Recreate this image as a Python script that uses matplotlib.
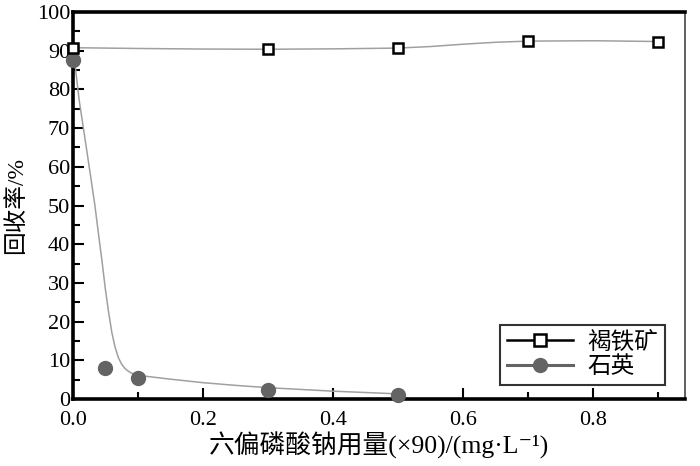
import matplotlib
matplotlib.use('Agg')
from matplotlib import pyplot as plt
from matplotlib.lines import Line2D
from matplotlib.ticker import MultipleLocator, FormatStrFormatter

plt.rcParams['font.family'] = ['Liberation Serif', 'Noto Sans CJK SC', 'DejaVu Sans']

# measured points
limonite_x = [0.0, 0.3, 0.5, 0.7, 0.9]
limonite_y = [90.8, 90.4, 90.7, 92.5, 92.3]
quartz_x = [0.0, 0.05, 0.1, 0.3, 0.5]
quartz_y = [87.5, 8.0, 5.3, 2.4, 1.1]

# smooth guide lines
limonite_fit_x = [0.0, 0.1, 0.2, 0.3, 0.4, 0.5, 0.55, 0.6, 0.65, 0.7, 0.8, 0.9]
limonite_fit_y = [90.8, 90.6, 90.45, 90.4, 90.5, 90.7, 91.1, 91.7, 92.2, 92.5, 92.6, 92.4]
quartz_fit_x = [0.0, 0.004, 0.01, 0.019, 0.027, 0.034, 0.04, 0.045, 0.05, 0.055,
                0.06, 0.065, 0.07, 0.075, 0.08, 0.085, 0.09, 0.095, 0.1, 0.125,
                0.15, 0.2, 0.25, 0.3, 0.4, 0.5]
quartz_fit_y = [87.5, 85.5, 77, 67, 58, 50, 42, 35.5, 28.5, 22.5,
                17.2, 13.4, 10.7, 9.0, 7.9, 7.2, 6.7, 6.35, 6.1, 5.6,
                5.1, 4.2, 3.5, 2.9, 2.0, 1.3]

fig = plt.figure(figsize=(7, 4.66), dpi=100)
ax = fig.add_axes([0.104, 0.144, 0.875, 0.830])

ax.plot(limonite_fit_x, limonite_fit_y, color='#a0a0a0', lw=1.1, zorder=2)
ax.plot(quartz_fit_x, quartz_fit_y, color='#a0a0a0', lw=1.1, zorder=2)
ax.plot(limonite_x, limonite_y, ls='none', marker='s', ms=7.5, mfc='white',
        mec='black', mew=1.8, zorder=4, clip_on=False)
ax.plot(quartz_x, quartz_y, ls='none', marker='o', ms=10, mfc='#646464',
        mec='#646464', zorder=3, clip_on=False)

ax.set_xlim(0, 0.942)
ax.set_ylim(0, 100)
ax.xaxis.set_major_locator(MultipleLocator(0.2))
ax.xaxis.set_minor_locator(MultipleLocator(0.1))
ax.yaxis.set_major_locator(MultipleLocator(10))
ax.yaxis.set_minor_locator(MultipleLocator(5))
ax.xaxis.set_major_formatter(FormatStrFormatter('%.1f'))
ax.tick_params(which='both', direction='in', top=False, right=False,
               labelsize=16, width=1.5)
ax.tick_params(axis='y', pad=2)
ax.tick_params(axis='x', pad=9)
ax.tick_params(which='major', length=8)
ax.tick_params(which='minor', length=5)

for side in ['left', 'bottom', 'top']:
    ax.spines[side].set_linewidth(2.6)
ax.spines['right'].set_linewidth(1.2)
ax.spines['right'].set_color('#444444')

ax.set_xlabel('六偏磷酸钠用量(×90)/(mg·L⁻¹)', fontsize=18.5, labelpad=1)
ax.set_ylabel('回收率/%', fontsize=17, labelpad=7)

handles = [
    Line2D([], [], color='black', lw=1.8, marker='s', ms=9, mfc='white',
           mec='black', mew=1.8),
    Line2D([], [], color='#646464', lw=2.2, marker='o', ms=10,
           mfc='#646464', mec='#646464'),
]
leg = ax.legend(handles, ['褐铁矿', '石英'], loc='lower right',
                bbox_to_anchor=(0.967, 0.036), borderaxespad=0, fontsize=17,
                frameon=True, fancybox=False, edgecolor='black',
                handlelength=2.8, borderpad=0.3, labelspacing=0.1,
                handletextpad=0.6)
leg.get_frame().set_linewidth(1.5)

fig.savefig('out.png', dpi=100)
